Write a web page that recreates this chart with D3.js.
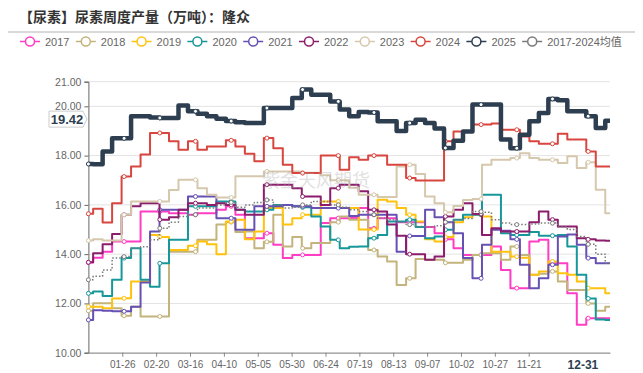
<!DOCTYPE html>
<html lang="zh">
<head>
<meta charset="UTF-8">
<title>尿素周度产量</title>
<script src="https://cdn.jsdelivr.net/npm/d3@7"></script>
<style>
    body { margin:0; background:#fff; }
    svg { display:block; font-family:"Liberation Sans","Noto Sans CJK SC",sans-serif; }
</style>
</head>
<body>
<svg id="chart" width="643" height="373"></svg>
<script>
// weekly values, week 0 = 01-01 (x axis in days)
var names = ["2017","2018","2019","2020","2021","2022","2023","2024","2025","2017-2024均值"];
var tickDays = [25,50,75,100,125,150,175,200,225,250,275,300,325];
var tickLabels = ["01-26","02-20","03-16","04-10","05-05","05-30","06-24","07-19","08-13","09-07","10-02","10-27","11-21"];
var lastDay = 365, lastLabel = "12-31";
var yTicks = [10,12,14,16,18,20,21];

var s2017 = [13.66,13.85,14.1,14.51,14.51,14.51,15.73,15.73,15.73,15.66, 15.66,15.6,15.66,15.66,15.8,15.94,15.6,14.65,14.65,14.85, 14.38,13.84,13.97,13.97,13.97,15.26,15.46,15.46,15.47,15.87, 15.05,15.46,15.46,15.3,15.3,15.3,15.1,14.85,14.6,14.24, 13.97,13.97,13.97,14.31,13.36,12.62,12.62,14.51,14.58,13.63, 13.63,12.41,11.13,11.4,11.4,11.4];
var s2018 = [11.7,12.01,12.01,11.8,11.5,11.87,11.47,11.47,11.47,14.1, 14.1,14.1,14.58,14.58,15.2,15.3,14.9,14.92,14.24,14.5, 15.6,14.31,14.7,14.24,14.45,14.45,15.3,15.53,15.4,15.4, 14.17,13.9,13.7,12.75,13.02,13.8,13.77,13.77,13.65,13.65, 13.77,13.97,14.04,14.04,13.77,14.31,13.97,13.16,13.2,13.3, 12.89,12.55,12.55,12.0,11.7,11.87];
var s2019 = [11.87,11.87,11.8,12.2,12.21,12.89,12.89,14.78,14.7,14.17, 14.17,14.34,14.51,14.4,14.0,15.33,15.4,14.6,14.92,15.87, 15.87,15.2,15.46,15.6,15.6,16.14,16.14,15.87,15.87,15.0, 15.0,16.21,16.14,15.87,15.6,15.33,14.6,14.51,14.7,15.3, 15.5,15.6,15.53,14.1,14.1,13.9,13.85,13.16,13.3,13.7, 13.23,13.16,12.89,12.62,12.62,12.41];
var s2020 = [12.41,12.48,12.3,12.96,13.84,14.24,12.96,12.68,13.63,14.58, 14.58,15.94,15.94,15.94,16.14,16.14,15.8,15.73,15.73,15.8, 16.0,16.0,15.94,15.9,15.53,15.12,14.58,14.24,14.3,14.31, 14.65,14.78,15.33,15.33,15.4,15.1,14.65,14.72,14.99,15.4, 15.6,15.6,16.41,16.41,14.85,14.78,14.78,14.9,14.75,14.75, 14.78,14.31,13.16,12.2,11.35,11.33];
var s2021 = [11.33,11.72,11.7,11.68,11.68,11.87,12.85,14.92,15.8,15.8, 15.8,16.34,16.34,16.34,15.46,15.46,14.99,14.99,15.94,15.94, 15.94,16.0,15.94,15.94,15.87,15.87,15.87,15.87,15.55,15.6, 15.6,15.6,15.6,14.1,14.74,14.74,15.8,15.5,15.3,14.85, 13.84,13.02,14.38,14.99,14.95,14.6,13.57,12.62,13.02,13.57, 14.72,14.8,14.38,13.84,13.63,13.63];
var s2022 = [13.67,14.04,14.4,14.82,15.6,15.94,16.07,16.07,15.4,15.5, 15.8,16.07,16.07,16.0,16.07,16.0,15.8,15.6,15.6,16.82, 16.82,16.82,16.68,16.34,16.34,16.0,16.68,16.82,16.82,16.55, 15.8,15.73,15.2,14.75,14.0,14.0,13.77,13.9,15.53,15.8, 16.07,15.63,14.78,15.05,14.92,14.92,14.92,15.3,15.73,15.4, 15.12,15.12,14.65,14.6,14.55,14.54];
var s2023 = [14.55,14.6,14.55,14.55,15.6,16.14,16.14,16.14,16.14,16.6, 17.02,17.02,16.68,16.41,16.3,16.3,17.16,17.16,17.16,17.36, 17.36,17.36,17.36,17.3,17.3,17.2,17.0,17.0,16.7,16.41, 16.41,16.32,16.32,17.56,17.63,17.25,16.34,16.07,15.7,15.95, 16.2,16.24,17.63,17.83,17.83,17.9,18.1,17.9,17.83,17.83, 17.7,17.97,17.5,17.73,16.61,15.66];
var s2024 = [15.64,15.84,15.28,16.07,17.15,17.56,18.04,18.92,18.92,18.58, 18.24,18.58,18.24,18.37,18.37,18.62,18.37,18.08,17.77,18.71, 18.3,17.63,17.29,17.29,17.29,18.0,18.0,17.43,17.93,17.83, 18.0,18.0,17.63,17.63,17.09,16.99,16.99,16.99,18.58,18.98, 18.98,19.26,19.26,19.3,19.05,19.05,18.78,18.58,18.48,18.48, 18.89,18.65,18.65,18.17,17.56,17.56];
var s2025 = [17.66,17.65,18.17,18.7,18.7,19.6,19.6,19.55,19.53,19.53, 20.03,19.8,19.7,19.6,19.5,19.4,19.35,19.32,19.32,19.93, 19.93,19.93,20.34,20.68,20.47,20.47,20.2,19.87,19.6,19.77, 19.75,19.39,19.39,19.0,19.32,19.46,19.32,19.1,18.31,18.6, 18.98,20.07,20.07,20.07,18.65,18.3,18.85,19.39,19.73,20.3, 20.25,19.8,19.8,19.6,19.12,19.42];
var sAvg = [12.96,13.1,13.36,13.84,13.9,14.24,14.3,14.58,15.05,15.3, 15.53,15.6,15.87,15.87,16.0,16.1,15.9,16.0,16.1,16.2, 16.0,15.87,15.9,16.0,16.14,16.14,16.0,15.9,15.8,15.73, 15.6,15.46,15.4,15.3,15.2,15.12,15.1,15.15,15.3,15.4, 15.45,15.73,15.7,15.4,15.26,15.2,15.2,15.22,15.26,15.26, 15.1,15.0,14.72,14.4,14.0,13.63];

var colors = ["#ff3cc4","#c3b37c","#ffc20e","#17979a","#6750b3","#8c1c6c","#d5c8ad","#d8463f","#2c3e50","#7a7a7a"];
var allValues = [s2017,s2018,s2019,s2020,s2021,s2022,s2023,s2024,s2025,sAvg];

var series = names.map(function(n, i) {
    return {name: n, color: colors[i], values: allValues[i],
            width: n == "2025" ? 4.5 : (i == 9 ? 1.5 : 2),
            dash: i == 9 ? "1.5,2" : null};
});

var svg = d3.select("#chart");
var plotL = 88.4, plotR = 610, plotT = 81.7, plotB = 352.7;

var x = d3.scaleLinear().domain([0, 385]).range([plotL, plotR]);
var y = d3.scaleLinear().domain([10, 21]).range([plotB, plotT]);

// title
svg.append("text").attr("x", 19).attr("y", 22)
    .style("font-family", "'Noto Sans CJK SC'").style("font-weight", "bold")
    .style("font-size", "14px").attr("fill", "#333")
    .text("【尿素】尿素周度产量（万吨）：隆众");
svg.append("line").attr("x1", 8).attr("x2", 635).attr("y1", 32).attr("y2", 32)
    .attr("stroke", "#ccc").attr("stroke-width", 1.5);

// legend
var leg = svg.append("g").selectAll("g").data(series).enter().append("g")
    .attr("transform", function(d, i) { return "translate(" + (20 + i * 55.8) + ",41.5)"; });
leg.append("line").attr("x1", 0).attr("x2", 20)
    .attr("stroke", function(d) { return d.color; }).attr("stroke-width", 1.5);
leg.append("circle").attr("cx", 10).attr("r", 4.5).attr("fill", "#fff")
    .attr("stroke", function(d) { return d.color; }).attr("stroke-width", 1.5);
leg.append("text").attr("x", 25).attr("y", 4).style("font-size", "11px")
    .attr("fill", "#666").text(function(d) { return d.name; });

// grid + y axis
svg.append("g").selectAll("line").data(yTicks).enter().append("line")
    .attr("x1", plotL).attr("x2", plotR)
    .attr("y1", function(d) { return y(d); }).attr("y2", function(d) { return y(d); })
    .attr("stroke", "#e3e3e3");

var yAxis = svg.append("g").attr("transform", "translate(" + plotL + ",0)")
    .call(d3.axisLeft(y).tickValues(yTicks).tickFormat(d3.format(".2f")).tickSize(4).tickPadding(3));
yAxis.select(".domain").attr("stroke", "#666");
yAxis.selectAll(".tick line").attr("stroke", "#666");
yAxis.selectAll("text").attr("fill", "#666").style("font-size", "10.5px").style("font-family", "'Liberation Sans'");

var xAxis = svg.append("g").attr("transform", "translate(0," + plotB + ")")
    .call(d3.axisBottom(x).tickValues(tickDays).tickFormat(function(d, i) { return tickLabels[i]; })
        .tickSize(4).tickSizeOuter(0).tickPadding(4));
xAxis.select(".domain").attr("stroke", "#888");
xAxis.selectAll(".tick line").attr("stroke", "#888");
xAxis.selectAll("text").attr("fill", "#666").style("font-size", "10px").style("font-family", "'Liberation Sans'");

svg.append("text").attr("x", x(lastDay)).attr("y", plotB + 16)
    .attr("text-anchor", "middle").style("font-weight", "bold").style("font-size", "12px")
    .attr("fill", "#2c3e50").text(lastLabel);

// lines
var line = d3.line()
    .x(function(d, i) { return x(i * 7); })
    .y(function(d) { return y(d); })
    .curve(d3.curveStep);

var g = svg.append("g");
series.forEach(function(s) {
    g.append("path").datum(s.values).attr("d", line)
        .attr("fill", "none").attr("stroke", s.color)
        .attr("stroke-width", s.width).attr("stroke-linejoin", "round")
        .attr("stroke-dasharray", s.dash);
    // hollow symbols shown every ~26 days
    var marks = d3.range(0, 15).map(function(k) { return k * 26.35; });
    g.selectAll(null).data(marks).enter().append("circle")
        .attr("cx", function(d) { return x(d); })
        .attr("cy", function(d) { return y(s.values[Math.round(d / 7)]); })
        .attr("r", 2).attr("fill", "#fff")
        .attr("stroke", s.color).attr("stroke-width", 1);
});

// watermark
svg.append("text").attr("x", 262).attr("y", 187)
    .style("font-family", "'Noto Sans CJK SC'").style("font-size", "18px")
    .attr("fill", "#aaa").attr("opacity", 0.35).text("紫金天风期货");

// end value tag for 2025
var last = s2025[s2025.length - 1];
var ty = y(last) - 1.5;
svg.append("path")
    .attr("d", "M49," + (ty - 8) + "H83L87," + ty + "L83," + (ty + 8) + "H49Z")
    .attr("fill", "#fff").attr("stroke", "#ccc");
svg.append("text").attr("x", 67).attr("y", ty + 4.5).attr("text-anchor", "middle")
    .style("font-weight", "bold").style("font-size", "13px").attr("fill", "#2c3e50")
    .text(d3.format(".2f")(last));
</script>
</body>
</html>
